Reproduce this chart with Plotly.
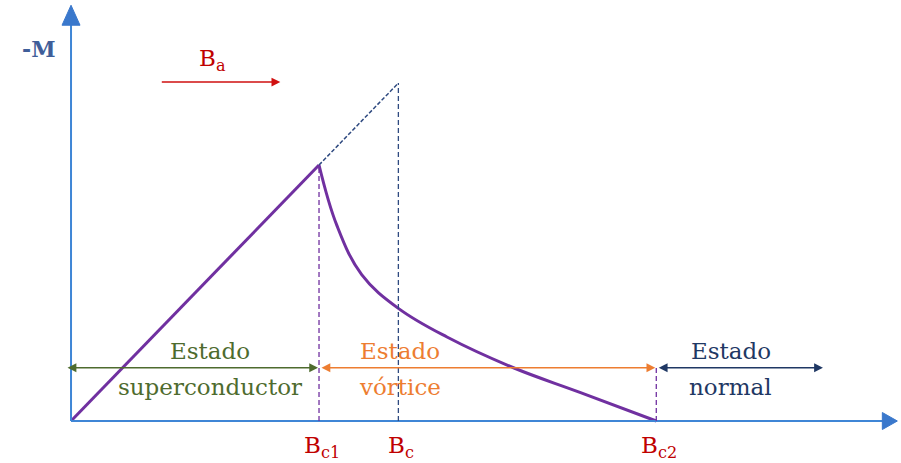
import plotly.graph_objects as go

# Critical fields (arbitrary units)
Bc1 = 2.5
Bc = 3.3
Bc2 = 5.9

# Meissner state: -M grows linearly with the applied field
B_meissner = [0.0, Bc1]
M_meissner = [0.0, Bc1]

# Vortex (mixed) state: -M decays from Bc1 to zero at Bc2
B_vortex = [2.50, 2.68, 2.93, 3.30, 3.79, 4.46, 5.13, 5.90]
M_vortex = [2.50, 1.91, 1.43, 1.10, 0.82, 0.52, 0.28, 0.00]

# Region labels and field tick labels
region_words = [("Estado", "superconductor"), ("Estado", "vórtice"), ("Estado", "normal")]
region_colors = ["#4E6B2E", "#ED7D31", "#1F3864"]
field_ticks = [(Bc1, "B<sub>c1</sub>"), (Bc, "B<sub>c</sub>"), (Bc2, "B<sub>c2</sub>")]

FONT = "DejaVu Serif"
AXIS = "#3F86D6"
PURPLE = "#7030A0"
NAVY = "#2F4A80"
RED = "#C00000"

x_range = [-0.716, 8.367]
y_range = [-0.41, 4.111]
# pixel sizes of one data unit (used for arrowhead geometry)
sx = 901 / (x_range[1] - x_range[0])
sy = 463 / (y_range[1] - y_range[0])

fig = go.Figure()

fig.add_trace(go.Scatter(x=B_meissner, y=M_meissner, mode="lines",
                         line=dict(color=PURPLE, width=3), hoverinfo="skip"))
fig.add_trace(go.Scatter(x=B_vortex, y=M_vortex, mode="lines",
                         line=dict(color=PURPLE, width=3, shape="spline", smoothing=1.1),
                         hoverinfo="skip"))

shapes = []
# axes
x_end = 8.33
y_end = 4.06
shapes.append(dict(type="line", x0=0, y0=0, x1=x_end - 12 / sx, y1=0,
                   line=dict(color=AXIS, width=2)))
shapes.append(dict(type="line", x0=0, y0=0, x1=0, y1=y_end - 16 / sy,
                   line=dict(color=AXIS, width=2)))
# axis arrowheads
hx, hy = 15 / sx, 8.5 / sy
shapes.append(dict(type="path",
                   path=f"M{x_end},0 L{x_end - hx},{hy} L{x_end - hx},{-hy} Z",
                   fillcolor="#3A78CC", line=dict(color="#3A78CC", width=1)))
vx, vy = 9 / sx, 20 / sy
shapes.append(dict(type="path",
                   path=f"M0,{y_end} L{vx},{y_end - vy} L{-vx},{y_end - vy} Z",
                   fillcolor="#3A78CC", line=dict(color="#3A78CC", width=1)))

# extrapolated Meissner line up to Bc
shapes.append(dict(type="line", x0=Bc1, y0=Bc1, x1=Bc, y1=Bc,
                   line=dict(color=NAVY, width=1.5, dash="4px,2px")))
# vertical guides
arrow_y = 0.52
shapes.append(dict(type="line", x0=Bc1, y0=0, x1=Bc1, y1=Bc1,
                   line=dict(color=PURPLE, width=1.3, dash="5px,3px")))
shapes.append(dict(type="line", x0=Bc, y0=0, x1=Bc, y1=Bc,
                   line=dict(color=NAVY, width=1.3, dash="5px,3px")))
shapes.append(dict(type="line", x0=Bc2, y0=0, x1=Bc2, y1=arrow_y,
                   line=dict(color=PURPLE, width=1.3, dash="5px,3px")))

annotations = []
# double-headed region arrows
spans = [(-0.05, Bc1 - 0.01), (Bc1 + 0.01, Bc2 - 0.01), (Bc2 + 0.01, 7.58)]
for (a, b), col in zip(spans, region_colors):
    annotations.append(dict(x=b, y=arrow_y, ax=a, ay=arrow_y, xref="x", yref="y",
                            axref="x", ayref="y", text="", showarrow=True,
                            arrowside="end+start", arrowhead=2, startarrowhead=2,
                            arrowsize=1.1, startarrowsize=1.1, arrowwidth=1.6,
                            arrowcolor=col, standoff=0, startstandoff=0))

# region text
centers = [1.40, 3.32, 6.65]
for cx, (w1, w2), col in zip(centers, region_words, region_colors):
    annotations.append(dict(x=cx, y=0.68, text=w1, showarrow=False, xanchor="center",
                            yanchor="middle", font=dict(family=FONT, size=23, color=col)))
    annotations.append(dict(x=cx, y=0.33, text=w2, showarrow=False, xanchor="center",
                            yanchor="middle", font=dict(family=FONT, size=23, color=col)))

# field labels under the axis
for xv, lab in field_ticks:
    annotations.append(dict(x=xv + 0.03, y=-0.25, text=lab, showarrow=False,
                            xanchor="center", yanchor="middle",
                            font=dict(family=FONT, size=23, color=RED)))

# axis title
annotations.append(dict(x=-0.33, y=3.63, text="<b>-M</b>", showarrow=False,
                        xanchor="center", yanchor="middle",
                        font=dict(family=FONT, size=22, color="#3F5E99")))

# applied-field direction arrow
annotations.append(dict(x=1.43, y=3.53, text="B<sub>a</sub>", showarrow=False,
                        xanchor="center", yanchor="middle",
                        font=dict(family=FONT, size=23, color=RED)))
annotations.append(dict(x=2.11, y=3.31, ax=0.90, ay=3.31, xref="x", yref="y",
                        axref="x", ayref="y", text="", showarrow=True, arrowhead=2,
                        arrowsize=1.1, arrowwidth=1.6, arrowcolor="#D01010", standoff=0))

fig.update_layout(
    width=901, height=463,
    margin=dict(l=0, r=0, t=0, b=0),
    paper_bgcolor="white", plot_bgcolor="white",
    showlegend=False,
    font=dict(family=FONT),
    xaxis=dict(range=x_range, visible=False, fixedrange=True),
    yaxis=dict(range=y_range, visible=False, fixedrange=True),
    shapes=shapes,
    annotations=annotations,
)

fig.write_html("out.html")
